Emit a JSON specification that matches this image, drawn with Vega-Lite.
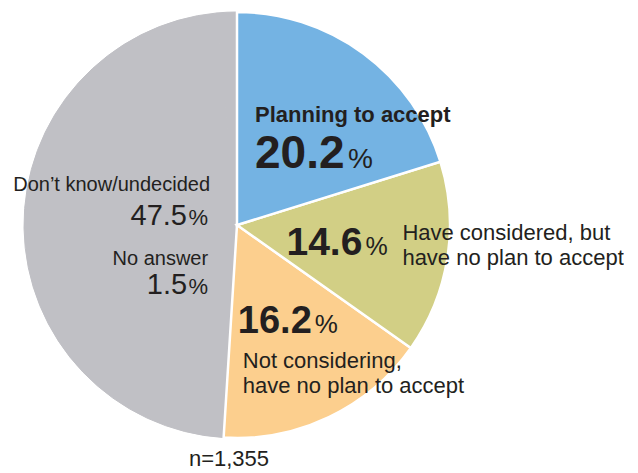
{
  "$schema": "https://vega.github.io/schema/vega-lite/v6.json",
  "width": 474,
  "height": 450,
  "padding": 0,
  "background": "white",
  "config": {"view": {"stroke": null}, "text": {"font": "Liberation Sans", "fill": "#231f20"}},
  "data": {"values": [
    {"category": "Planning to accept", "value": 20.2, "order": 1, "lines": ["Planning to accept"]},
    {"category": "Have considered, but have no plan to accept", "value": 14.6, "order": 2, "lines": ["Have considered, but", "have no plan to accept"]},
    {"category": "Not considering, have no plan to accept", "value": 16.2, "order": 3, "lines": ["Not considering,", "have no plan to accept"]},
    {"category": "Don’t know/undecided", "value": 47.5, "order": 4, "lines": ["Don’t know/undecided"]},
    {"category": "No answer", "value": 1.5, "order": 5, "lines": ["No answer"]}
  ]},
  "transform": [
    {"window": [{"op": "sum", "field": "value", "as": "v1"}], "sort": [{"field": "order"}], "frame": [null, 0]},
    {"calculate": "datum.v1 - datum.value", "as": "v0"},
    {"calculate": "(datum.v0 + datum.v1) / 2", "as": "mid"}
  ],
  "layer": [
    {
      "mark": {"type": "arc", "outerRadius": 213},
      "encoding": {
        "theta": {"field": "v0", "type": "quantitative", "scale": {"domain": [0, 100]}},
        "theta2": {"field": "v1"},
        "color": {"field": "category", "type": "nominal", "legend": null,
          "scale": {"domain": ["Planning to accept", "Have considered, but have no plan to accept", "Not considering, have no plan to accept", "Don’t know/undecided", "No answer"],
                    "range": ["#74b3e3", "#d2cf85", "#fccf8e", "#c0c0c5", "#c0c0c5"]}},
        "stroke": {"condition": {"test": "datum.order >= 4", "value": "#c0c0c5"}, "value": "white"},
        "strokeWidth": {"condition": {"test": "datum.order >= 4", "value": 1}, "value": 2.5},
        "order": {"field": "order", "sort": "descending"}
      }
    },
    {
      "transform": [{"filter": "datum.order == 1"}],
      "mark": {"type": "text", "radius": 140, "align": "left", "baseline": "alphabetic", "dx": -65, "dy": 10, "fontSize": 22, "fontWeight": "bold"},
      "encoding": {"theta": {"field": "mid", "type": "quantitative", "scale": {"domain": [0, 100]}}, "text": {"field": "lines"}}
    },
    {
      "transform": [{"filter": "datum.order == 1"}],
      "mark": {"type": "text", "radius": 140, "align": "left", "baseline": "alphabetic", "dx": -65, "dy": 56, "fontSize": 46, "fontWeight": "bold"},
      "encoding": {"theta": {"field": "mid", "type": "quantitative", "scale": {"domain": [0, 100]}}, "text": {"field": "value", "type": "quantitative", "format": ".1f"}}
    },
    {
      "transform": [{"filter": "datum.order == 1"}],
      "mark": {"type": "text", "radius": 140, "align": "left", "baseline": "alphabetic", "dx": 28, "dy": 56, "fontSize": 28, "text": "%"},
      "encoding": {"theta": {"field": "mid", "type": "quantitative", "scale": {"domain": [0, 100]}}}
    },
    {
      "transform": [{"filter": "datum.order == 2"}],
      "mark": {"type": "text", "radius": 130, "align": "right", "baseline": "alphabetic", "dx": -3, "dy": 10, "fontSize": 39, "fontWeight": "bold"},
      "encoding": {"theta": {"field": "mid", "type": "quantitative", "scale": {"domain": [0, 100]}}, "text": {"field": "value", "type": "quantitative", "format": ".1f"}}
    },
    {
      "transform": [{"filter": "datum.order == 2"}],
      "mark": {"type": "text", "radius": 130, "align": "left", "baseline": "alphabetic", "dx": 0, "dy": 10, "fontSize": 25, "text": "%"},
      "encoding": {"theta": {"field": "mid", "type": "quantitative", "scale": {"domain": [0, 100]}}}
    },
    {
      "transform": [{"filter": "datum.order == 2"}],
      "mark": {"type": "text", "radius": 130, "align": "left", "baseline": "alphabetic", "dx": 37, "dy": -5, "fontSize": 22, "lineHeight": 25},
      "encoding": {"theta": {"field": "mid", "type": "quantitative", "scale": {"domain": [0, 100]}}, "text": {"field": "lines"}}
    },
    {
      "transform": [{"filter": "datum.order == 3"}],
      "mark": {"type": "text", "radius": 120, "align": "right", "baseline": "alphabetic", "dx": 23, "dy": 0, "fontSize": 38, "fontWeight": "bold"},
      "encoding": {"theta": {"field": "mid", "type": "quantitative", "scale": {"domain": [0, 100]}}, "text": {"field": "value", "type": "quantitative", "format": ".1f"}}
    },
    {
      "transform": [{"filter": "datum.order == 3"}],
      "mark": {"type": "text", "radius": 120, "align": "left", "baseline": "alphabetic", "dx": 26, "dy": 0, "fontSize": 26, "text": "%"},
      "encoding": {"theta": {"field": "mid", "type": "quantitative", "scale": {"domain": [0, 100]}}}
    },
    {
      "transform": [{"filter": "datum.order == 3"}],
      "mark": {"type": "text", "radius": 120, "align": "left", "baseline": "alphabetic", "dx": -46, "dy": 35, "fontSize": 22, "lineHeight": 25},
      "encoding": {"theta": {"field": "mid", "type": "quantitative", "scale": {"domain": [0, 100]}}, "text": {"field": "lines"}}
    },
    {
      "transform": [{"filter": "datum.order == 4"}],
      "mark": {"type": "text", "radius": 30, "align": "right", "baseline": "alphabetic", "dx": 3, "dy": -34, "fontSize": 20},
      "encoding": {"theta": {"field": "mid", "type": "quantitative", "scale": {"domain": [0, 100]}}, "text": {"field": "lines"}}
    },
    {
      "transform": [{"filter": "datum.order == 4"}],
      "mark": {"type": "text", "radius": 30, "align": "right", "baseline": "alphabetic", "dx": -20, "dy": 0, "fontSize": 29},
      "encoding": {"theta": {"field": "mid", "type": "quantitative", "scale": {"domain": [0, 100]}}, "text": {"field": "value", "type": "quantitative", "format": ".1f"}}
    },
    {
      "transform": [{"filter": "datum.order == 4"}],
      "mark": {"type": "text", "radius": 30, "align": "right", "baseline": "alphabetic", "dx": 1, "dy": 0, "fontSize": 22, "text": "%"},
      "encoding": {"theta": {"field": "mid", "type": "quantitative", "scale": {"domain": [0, 100]}}}
    },
    {
      "transform": [{"filter": "datum.order == 5"}],
      "mark": {"type": "text", "radius": 30, "align": "right", "baseline": "alphabetic", "dx": 1, "dy": 37, "fontSize": 20},
      "encoding": {"theta": {"datum": 73.4, "type": "quantitative", "scale": {"domain": [0, 100]}}, "text": {"field": "lines"}}
    },
    {
      "transform": [{"filter": "datum.order == 5"}],
      "mark": {"type": "text", "radius": 30, "align": "right", "baseline": "alphabetic", "dx": -20, "dy": 66, "fontSize": 29},
      "encoding": {"theta": {"datum": 73.4, "type": "quantitative", "scale": {"domain": [0, 100]}}, "text": {"field": "value", "type": "quantitative", "format": ".1f"}}
    },
    {
      "transform": [{"filter": "datum.order == 5"}],
      "mark": {"type": "text", "radius": 30, "align": "right", "baseline": "alphabetic", "dx": 1, "dy": 66, "fontSize": 22, "text": "%"},
      "encoding": {"theta": {"datum": 73.4, "type": "quantitative", "scale": {"domain": [0, 100]}}}
    },
    {
      "transform": [{"filter": "datum.order == 1"}],
      "mark": {"type": "text", "radius": 245, "align": "center", "baseline": "alphabetic", "dx": -8, "dy": -4, "fontSize": 22, "text": "n=1,355"},
      "encoding": {"theta": {"datum": 50, "type": "quantitative", "scale": {"domain": [0, 100]}}}
    }
  ]
}
